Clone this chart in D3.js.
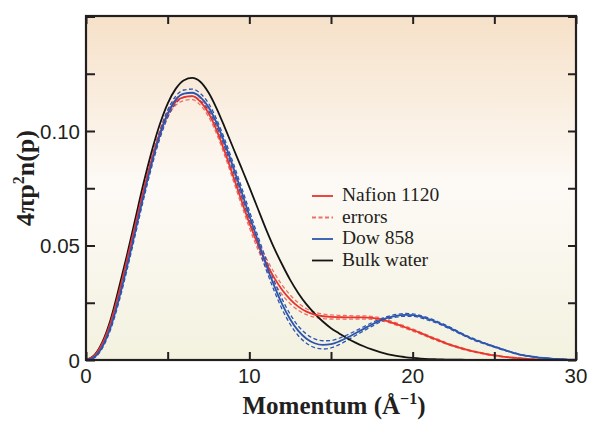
<!DOCTYPE html>
<html><head><meta charset="utf-8">
<script src="https://cdn.jsdelivr.net/npm/d3@7"></script>
<style>html,body{margin:0;padding:0;background:#fff;}svg{display:block;}</style>
</head><body>
<svg id="chart" width="590" height="421"></svg>
<script>
// Momentum grid (Å^-1)
const momentum = d3.range(0, 30.001, 0.5);
// Bulk water
const bulkWater = [0,0.002,0.0078,0.0175,0.031,0.0455,0.061,0.0765,0.0905,0.1025,
0.112,0.1185,0.1222,0.1232,0.1215,0.1168,0.1098,0.1015,0.0928,0.0842,
0.0755,0.0665,0.0575,0.0492,0.0418,0.035,0.0292,0.0243,0.0203,0.0168,
0.0139,0.0116,0.0094,0.0076,0.006,0.0046,0.0034,0.0025,0.0018,0.0013,
0.0009,0.0006,0.0004,0.0003,0.0002,0.0001,0.0001,0,0,0,
0,0,0,0,0,0,0,0,0,0,0];
// Nafion 1120
const nafion = [0,0.0018,0.0072,0.0163,0.029,0.0435,0.0585,0.0735,0.087,0.0985,
0.1075,0.1128,0.1148,0.1152,0.1128,0.1078,0.1003,0.0908,0.0805,0.07,
0.0598,0.0508,0.0428,0.0362,0.0307,0.0265,0.0233,0.0211,0.0198,0.0191,
0.0188,0.0187,0.0186,0.0186,0.0186,0.0184,0.0178,0.0169,0.0157,0.0144,
0.0131,0.0117,0.0102,0.0088,0.0074,0.0062,0.0051,0.0041,0.0033,0.0026,
0.002,0.0015,0.0011,0.0008,0.0005,0.0003,0.0002,0.0001,0.0001,0,0];
const nafionErr = [0,0.0002,0.0005,0.0008,0.001,0.0012,0.0013,0.0014,0.0015,0.0015,
0.0015,0.0015,0.0015,0.0015,0.0015,0.0015,0.0016,0.0017,0.0018,0.0019,
0.002,0.0021,0.0022,0.0022,0.0021,0.0019,0.0016,0.0013,0.0011,0.001,
0.0009,0.0008,0.0008,0.0007,0.0007,0.0006,0.0006,0.0005,0.0005,0.0005,
0.0005,0.0004,0.0004,0.0004,0.0003,0.0003,0.0003,0.0002,0.0002,0.0002,
0.0002,0.0001,0.0001,0.0001,0.0001,0.0001,0,0,0,0,0];
// Dow 858
const dow = [0,0.0012,0.0058,0.0142,0.0262,0.0405,0.0557,0.071,0.0853,0.0978,
0.1075,0.1137,0.1163,0.1167,0.1148,0.1105,0.1035,0.0945,0.0845,0.074,
0.0632,0.0525,0.0422,0.0328,0.0245,0.0178,0.0127,0.0093,0.0073,0.0066,
0.0069,0.0081,0.0098,0.0117,0.0136,0.0155,0.0172,0.0185,0.0193,0.0197,
0.0196,0.0189,0.0178,0.0165,0.0149,0.0132,0.0114,0.0097,0.0083,0.007,
0.0058,0.0046,0.0035,0.0025,0.0018,0.0013,0.0009,0.0006,0.0004,0.0002,0.0001];
const dowErr = [0,0.0003,0.0006,0.001,0.0013,0.0015,0.0016,0.0016,0.0016,0.0016,
0.0016,0.0016,0.0016,0.0016,0.0016,0.0016,0.0016,0.0017,0.0018,0.0019,
0.002,0.0021,0.0022,0.0022,0.0022,0.0022,0.0021,0.002,0.0019,0.0018,
0.0016,0.0014,0.0012,0.001,0.0009,0.0008,0.0007,0.0006,0.0006,0.0006,
0.0005,0.0005,0.0005,0.0004,0.0004,0.0004,0.0003,0.0003,0.0003,0.0002,
0.0002,0.0002,0.0001,0.0001,0.0001,0.0001,0,0,0,0,0];
const xTicks = [0,10,20,30];
const yTicks = [0,0.05,0.10];
const yTickLabels = ["0","0.05","0.10"];
const legendLabels = ["Nafion 1120","errors","Dow 858","Bulk water"];

const svg = d3.select("#chart");
const L=86, R=576, T=16, B=360;
const x = d3.scaleLinear().domain([0,30]).range([L,R]);
const y = d3.scaleLinear().domain([0,0.15]).range([B,B-343.5]);

const defs = svg.append("defs");
const grad = defs.append("linearGradient").attr("id","bg").attr("x1",0).attr("y1",0).attr("x2",0).attr("y2",1);
grad.append("stop").attr("offset","0%").attr("stop-color","#f6e1c9");
grad.append("stop").attr("offset","50%").attr("stop-color","#fdfaf6");
grad.append("stop").attr("offset","100%").attr("stop-color","#f3f1df");
defs.append("clipPath").attr("id","clip").append("rect").attr("x",L).attr("y",T).attr("width",R-L).attr("height",B-T);

svg.append("rect").attr("x",L).attr("y",T).attr("width",R-L).attr("height",B-T).attr("fill","url(#bg)");

const RED="#e8342c", REDL="#ef6f66", BLUE="#2c55ae", BLACK="#141414";
const g = svg.append("g").attr("clip-path","url(#clip)");
const line = vals => d3.line().curve(d3.curveMonotoneX).x((d,i)=>x(momentum[i])).y(d=>y(d))(vals);

function draw(vals, color, w, dash){
  const p = g.append("path").attr("d", line(vals)).attr("fill","none").attr("stroke",color).attr("stroke-width",w);
  if(dash) p.attr("stroke-dasharray",dash);
}
draw(nafion.map((v,i)=>v+nafionErr[i]), REDL, 1.3, "4,2.5");
draw(nafion.map((v,i)=>Math.max(0,v-nafionErr[i])), REDL, 1.3, "4,2.5");
draw(dow.map((v,i)=>v+dowErr[i]), BLUE, 1.3, "4,2.5");
draw(dow.map((v,i)=>Math.max(0,v-dowErr[i])), BLUE, 1.3, "4,2.5");
draw(bulkWater, BLACK, 1.8);
draw(nafion, RED, 1.8);
draw(dow, BLUE, 1.8);

// axes with inward ticks on all sides
const ax = svg.append("g");
const xt = d3.range(0,30.001,5), yt = d3.range(0,0.1501,0.025);
ax.append("g").attr("transform",`translate(0,${B})`).call(d3.axisBottom(x).tickValues(xt).tickSizeInner(-8).tickSizeOuter(0).tickFormat(""));
ax.append("g").attr("transform",`translate(0,${T})`).call(d3.axisTop(x).tickValues(xt).tickSizeInner(-8).tickSizeOuter(0).tickFormat(""));
ax.append("g").attr("transform",`translate(${L},0)`).call(d3.axisLeft(y).tickValues(yt).tickSizeInner(-9).tickSizeOuter(0).tickFormat(""));
ax.append("g").attr("transform",`translate(${R},0)`).call(d3.axisRight(y).tickValues(yt).tickSizeInner(-8).tickSizeOuter(0).tickFormat(""));
ax.selectAll(".domain").remove();
ax.selectAll("line").attr("stroke","#231f20").attr("stroke-width",2);
svg.append("rect").attr("x",L).attr("y",T).attr("width",R-L).attr("height",B-T).attr("fill","none").attr("stroke","#231f20").attr("stroke-width",2.2);

// tick labels
const tf = "'Liberation Sans', Arial, sans-serif";
svg.selectAll(".xl").data(xTicks).enter().append("text").attr("x",d=>x(d)).attr("y",B+23)
  .attr("text-anchor","middle").attr("font-family",tf).attr("font-size",20.5).attr("fill","#231f20").text(d=>d);
svg.selectAll(".yl").data(yTicks).enter().append("text").attr("x",L-6).attr("y",d=>y(d)+7.5)
  .attr("text-anchor","end").attr("font-family",tf).attr("font-size",20.5).attr("fill","#231f20").text((d,i)=>yTickLabels[i]);

// axis titles
const sf = "'Liberation Serif','Times New Roman',serif";
const xt2 = svg.append("text").attr("x",334).attr("y",414).attr("text-anchor","middle").attr("font-family",sf)
  .attr("font-weight","bold").attr("font-size",25).attr("fill","#231f20");
xt2.append("tspan").text("Momentum (Å");
xt2.append("tspan").attr("font-size",16).attr("dy",-10).text("−1");
xt2.append("tspan").attr("dy",10).text(")");
const yt2 = svg.append("text").attr("transform","translate(34,178) rotate(-90)").attr("text-anchor","middle").attr("font-family",sf)
  .attr("font-weight","bold").attr("font-size",26).attr("fill","#231f20");
yt2.append("tspan").text("4πp");
yt2.append("tspan").attr("font-size",16).attr("dy",-10).text("2");
yt2.append("tspan").attr("dy",10).text("n(p)");

// legend
const legColors = [RED, REDL, BLUE, BLACK];
const legDash = [null,"4,2.5",null,null];
const lg = svg.append("g");
legendLabels.forEach((t,i)=>{
  const by = 201 + i*21.5;
  const l = lg.append("line").attr("x1",312).attr("x2",333).attr("y1",by-5).attr("y2",by-5).attr("stroke",legColors[i]).attr("stroke-width",1.8);
  if(legDash[i]) l.attr("stroke-dasharray",legDash[i]);
  lg.append("text").attr("x",342).attr("y",by).attr("font-family",sf).attr("font-size",19.5).attr("fill","#231f20").text(t);
});
</script>
</body></html>
